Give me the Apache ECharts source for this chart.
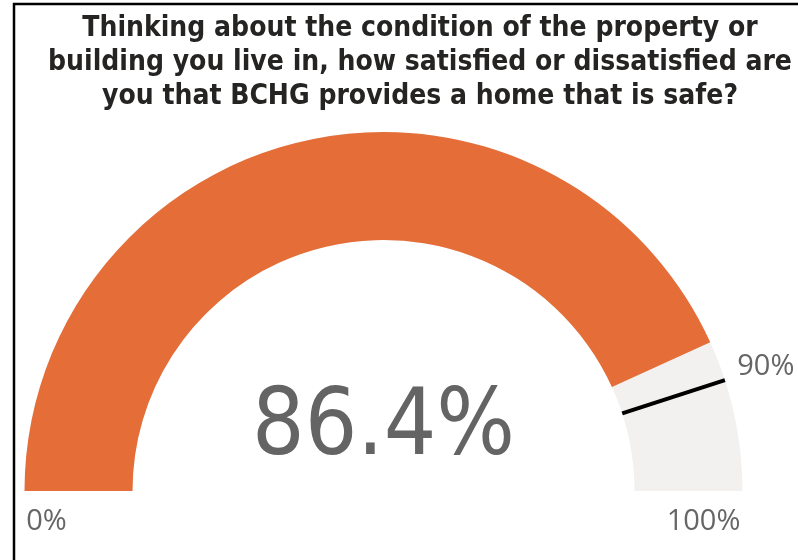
<!DOCTYPE html>
<html>
<head>
<meta charset="utf-8">
<script src="https://cdn.jsdelivr.net/npm/echarts@6/dist/echarts.min.js"></script>
<style>
  html, body { margin: 0; padding: 0; background: #fff; }
  #gaugeChart { width: 798px; height: 560px; }
</style>
</head>
<body>
<div id="gaugeChart"></div>
<script>
const chartTitle = 'Thinking about the condition of the property or\nbuilding you live in, how satisfied or dissatisfied are\nyou that BCHG provides a home that is safe?';
const gaugeMin = 0;
const gaugeMax = 100;
const actualValue = [86.4];
const targetValue = [90];

const cx = 383.5, cy = 491;
const outerR = 359, bandW = 108;

// label position for the target, pushed out past the arc along its angle
function targetOffset(v, r) {
  const a = Math.PI * (1 - (v - gaugeMin) / (gaugeMax - gaugeMin));
  return [r * Math.cos(a), -r * Math.sin(a)];
}

const base = {
  type: 'gauge',
  center: [cx, cy],
  radius: outerR,
  startAngle: 180,
  endAngle: 0,
  min: gaugeMin,
  max: gaugeMax,
  axisTick: { show: false },
  splitLine: { show: false },
  axisLabel: { show: false },
  title: { show: false },
  animation: false
};

const labelStyle = {
  fontFamily: 'Open Sans',
  fontWeight: 'normal',
  fontSize: 29,
  color: '#666666',
  formatter: '{value}%'
};

const options = {
  backgroundColor: '#ffffff',
  title: {
    text: chartTitle,
    left: 415,
    top: 7,
    textAlign: 'center',
    textStyle: {
      fontFamily: 'DejaVu Sans Condensed',
      fontWeight: 'bold',
      fontSize: 28,
      lineHeight: 34,
      color: '#252423'
    }
  },
  graphic: [{
    type: 'polyline',
    shape: { points: [[14, 560], [14, 4], [798, 4]] },
    style: { stroke: '#000', lineWidth: 2.5, fill: null },
    z: 10
  }],
  series: [
    Object.assign({}, base, {
      name: 'actual',
      axisLine: { lineStyle: { width: bandW, color: [[1, '#F2F1F0']] } },
      progress: { show: true, width: bandW, roundCap: false, itemStyle: { color: '#E46D38' } },
      pointer: { show: false },
      detail: {
        offsetCenter: [0, -61],
        fontFamily: 'DejaVu Sans Condensed',
        fontWeight: 'normal',
        fontSize: 92,
        color: '#646464',
        formatter: '{value}%'
      },
      data: [{ value: actualValue[0] }]
    }),
    Object.assign({}, base, {
      name: 'target',
      z: 3,
      axisLine: { show: false },
      progress: { show: false },
      pointer: {
        show: true,
        icon: 'rect',
        width: 4,
        length: bandW,
        offsetCenter: [0, -(outerR - bandW)],
        itemStyle: { color: '#000000' }
      },
      detail: Object.assign({}, labelStyle, { offsetCenter: targetOffset(targetValue[0], 402) }),
      data: [{ value: targetValue[0] }]
    }),
    Object.assign({}, base, {
      name: 'ends',
      axisLine: { show: false },
      progress: { show: false },
      pointer: { show: false },
      detail: labelStyle,
      data: [
        { value: gaugeMin, detail: { offsetCenter: [-337, 31] } },
        { value: gaugeMax, detail: { offsetCenter: [320, 31] } }
      ]
    })
  ]
};

const gaugeChart = echarts.init(document.getElementById('gaugeChart'));
gaugeChart.setOption(options);
</script>
</body>
</html>
